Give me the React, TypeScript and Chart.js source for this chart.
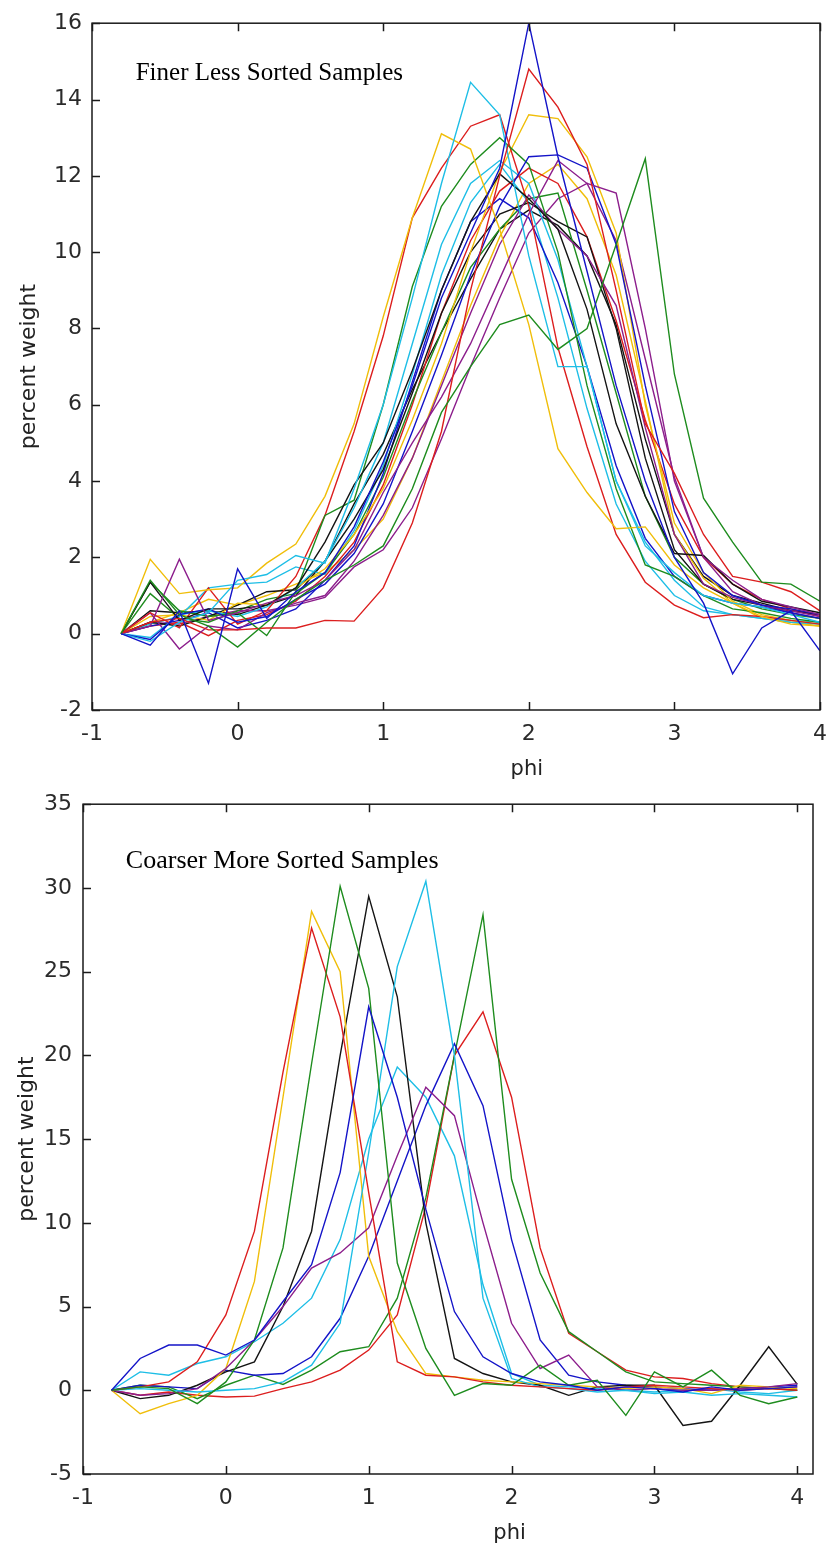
import { useEffect, useRef } from 'react';
import { Chart, registerables } from 'chart.js';

Chart.register(...registerables);

// ---------- shared axis data ----------
const PHI = [-0.8, -0.6, -0.4, -0.2, 0, 0.2, 0.4, 0.6, 0.8, 1.0, 1.2, 1.4, 1.6, 1.8, 2.0, 2.2, 2.4, 2.6, 2.8, 3.0, 3.2, 3.4, 3.6, 3.8, 4.0];
const X_TICKS = [-1, 0, 1, 2, 3, 4];
const TOP_Y_TICKS = [-2, 0, 2, 4, 6, 8, 10, 12, 14, 16];
const BOTTOM_Y_TICKS = [-5, 0, 5, 10, 15, 20, 25, 30, 35];

const X_TITLE = 'phi';
const Y_TITLE = 'percent weight';
const TOP_NOTE = 'Finer Less Sorted Samples';
const BOTTOM_NOTE = 'Coarser More Sorted Samples';

const COLORS = {
  blue: '#1414C8',
  green: '#1E8C1E',
  red: '#DC1E1E',
  cyan: '#1EBEE6',
  purple: '#8C1E8C',
  yellow: '#F0BE0A',
  black: '#141414',
};

// ---------- top panel: finer, less sorted samples ----------
const TOP_BLUE_A = [0, -0.3, 0.6, -1.3, 1.7, 0.4, 1.1, 1.6, 2.8, 4.5, 6.5, 8.8, 10.5, 12.2, 16.0, 12.5, 9.5, 6.5, 4.0, 2.0, 0.8, -1.05, 0.15, 0.6, -0.45];
const TOP_GREEN_A = [0, 1.4, 0.5, 0.2, -0.35, 0.3, 0.9, 1.4, 1.8, 2.3, 3.8, 5.8, 7.0, 8.1, 8.35, 7.45, 8.0, 10.2, 12.45, 6.8, 3.55, 2.4, 1.35, 1.3, 0.85];
const TOP_RED_A = [0, 0.3, 0.4, 0.1, 0.1, 0.15, 0.15, 0.35, 0.33, 1.2, 2.9, 5.3, 9.0, 12.0, 14.8, 13.8, 12.3, 9.0, 5.5, 4.2, 2.6, 1.5, 1.35, 1.1, 0.6];
const TOP_CYAN_A = [0, -0.2, 0.3, 0.55, 1.4, 1.55, 2.05, 1.85, 3.8, 6.0, 8.8, 11.8, 14.45, 13.6, 9.9, 7.0, 7.0, 4.0, 2.3, 1.6, 1.0, 0.8, 0.7, 0.5, 0.3];
const TOP_PURPLE_A = [0, 0.2, 1.95, 0.35, 0.55, 0.8, 1.0, 1.4, 2.2, 3.7, 5.0, 6.2, 7.6, 9.3, 11.0, 12.4, 11.8, 11.55, 8.0, 4.0, 2.0, 1.4, 0.9, 0.7, 0.5];
const TOP_YELLOW_A = [0, 1.95, 1.05, 1.15, 1.2, 1.85, 2.35, 3.6, 5.5, 8.3, 10.9, 13.1, 12.7, 10.6, 8.1, 4.85, 3.7, 2.75, 2.8, 1.8, 1.2, 0.8, 0.45, 0.25, 0.2];
const TOP_BLACK_A = [0, 1.35, 0.35, 0.65, 0.65, 0.75, 1.2, 2.4, 3.9, 5.0, 6.9, 9.0, 10.8, 12.05, 11.4, 10.6, 8.5, 5.5, 3.6, 2.1, 2.05, 1.3, 0.85, 0.7, 0.55];
const TOP_BLUE_B = [0, -0.15, 0.5, 0.65, 0.3, 0.45, 0.9, 1.3, 2.1, 3.4, 5.3, 7.3, 9.4, 11.2, 12.5, 12.55, 12.2, 10.2, 6.5, 3.2, 1.6, 1.0, 0.75, 0.65, 0.5];
const TOP_GREEN_B = [0, 1.35, 0.6, 0.45, 0.55, -0.05, 1.1, 3.1, 3.5, 6.0, 9.1, 11.2, 12.3, 13.0, 12.3, 10.0, 6.5, 3.8, 1.8, 1.5, 1.0, 0.65, 0.55, 0.4, 0.3];
const TOP_RED_B = [0, 0.55, 0.15, 1.2, 0.25, 0.6, 1.5, 3.1, 5.3, 7.8, 10.9, 12.2, 13.3, 13.6, 11.2, 7.5, 4.9, 2.6, 1.35, 0.75, 0.42, 0.5, 0.45, 0.35, 0.25];
const TOP_CYAN_B = [0, -0.1, 0.5, 0.6, 0.45, 0.7, 1.2, 1.9, 3.3, 5.0, 7.6, 10.2, 11.8, 12.4, 11.8, 9.8, 7.0, 4.0, 2.4, 1.4, 0.7, 0.5, 0.4, 0.3, 0.25];
const TOP_PURPLE_B = [0, 0.55, -0.4, 0.2, 0.1, 0.55, 0.8, 1.0, 1.9, 3.1, 4.6, 6.5, 8.4, 10.2, 11.5, 10.6, 9.9, 8.6, 5.4, 2.6, 1.3, 0.95, 0.75, 0.6, 0.45];
const TOP_YELLOW_B = [0, 0.45, 0.5, 0.35, 0.8, 0.75, 1.2, 1.7, 2.6, 3.8, 5.6, 7.6, 10.0, 12.1, 13.6, 13.5, 12.5, 10.5, 6.0, 2.9, 1.6, 0.85, 0.5, 0.35, 0.25];
const TOP_BLACK_B = [0, 0.3, 0.2, 0.45, 0.75, 1.1, 1.15, 1.9, 3.0, 4.3, 6.3, 8.4, 10.0, 11.0, 11.3, 10.8, 10.4, 8.0, 4.6, 2.2, 1.3, 0.9, 0.75, 0.6, 0.5];
const TOP_BLUE_C = [0, 0.2, 0.35, 0.55, 0.15, 0.35, 0.65, 1.4, 2.3, 4.2, 6.6, 9.0, 10.8, 11.4, 10.9, 9.2, 7.0, 4.4, 2.5, 1.5, 1.0, 0.8, 0.7, 0.55, 0.4];
const TOP_GREEN_C = [0, 1.05, 0.4, 0.3, 0.6, 0.9, 1.05, 1.6, 2.6, 4.1, 6.1, 7.9, 9.6, 10.6, 11.4, 11.55, 9.0, 6.3, 3.6, 2.0, 1.3, 0.9, 0.65, 0.5, 0.4];
const TOP_RED_C = [0, 0.2, 0.3, -0.05, 0.35, 0.5, 0.85, 1.5, 2.4, 3.9, 6.0, 8.4, 10.3, 11.6, 12.2, 11.8, 10.4, 8.2, 5.6, 3.4, 2.0, 1.3, 0.9, 0.65, 0.45];
const TOP_CYAN_C = [0, 0.25, 0.45, 1.2, 1.3, 1.35, 1.75, 1.55, 2.7, 4.4, 6.8, 9.4, 11.3, 12.3, 11.3, 8.8, 5.9, 3.4, 1.9, 1.0, 0.6, 0.5, 0.4, 0.35, 0.3];
const TOP_PURPLE_C = [0, 0.3, 0.25, 0.45, 0.6, 0.6, 0.75, 0.95, 1.75, 2.2, 3.3, 5.1, 7.0, 8.8, 10.5, 11.4, 11.8, 10.3, 7.2, 4.1, 2.0, 1.1, 0.75, 0.55, 0.4];
const TOP_YELLOW_C = [0, 0.3, 0.55, 0.9, 0.75, 1.0, 1.3, 1.6, 2.2, 3.0, 4.6, 6.6, 8.6, 10.4, 11.8, 12.3, 11.4, 9.4, 6.1, 2.6, 1.45, 0.8, 0.4, 0.3, 0.2];
const TOP_BLACK_C = [0, 0.6, 0.55, 0.6, 0.5, 0.75, 1.0, 1.9, 3.4, 4.7, 6.4, 7.9, 9.3, 10.6, 11.1, 10.7, 9.9, 8.1, 5.1, 2.6, 1.5, 1.0, 0.8, 0.6, 0.5];

// ---------- bottom panel: coarser, more sorted samples ----------
const BOT_BLUE_A = [0, 1.9, 2.7, 2.7, 2.1, 3.0, 5.3, 7.5, 13.0, 22.9, 17.5, 10.8, 4.7, 2.0, 1.0, 0.5, 0.3, 0.0, 0.2, 0.1, -0.1, 0.2, 0.0, 0.1, 0.2];
const BOT_GREEN_A = [0, 0.2, 0.1, -0.8, 0.5, 3.0, 8.5, 19.5, 30.1, 24.0, 7.6, 2.5, -0.3, 0.4, 0.3, 1.5, 0.3, 0.6, -1.5, 1.1, 0.2, 1.2, -0.3, -0.8, -0.4];
const BOT_RED_A = [0, 0.2, 0.5, 1.7, 4.5, 9.5, 19.0, 27.6, 22.3, 11.8, 1.7, 0.9, 0.8, 0.5, 0.3, 0.2, 0.1, 0.0, 0.2, 0.3, 0.2, 0.1, 0.0, 0.1, 0.0];
const BOT_CYAN_A = [0, 0.1, 0.0, -0.1, 0.0, 0.1, 0.5, 1.5, 4.0, 14.2, 25.3, 30.4, 20.0, 5.5, 0.7, 0.2, 0.1, -0.1, 0.0, -0.2, -0.1, -0.3, -0.2, -0.3, -0.4];
const BOT_PURPLE = [0, -0.3, -0.2, 0.1, 1.3, 3.0, 5.0, 7.3, 8.2, 9.7, 14.0, 18.1, 16.4, 10.0, 4.0, 1.3, 2.1, 0.2, 0.0, 0.1, 0.0, 0.0, 0.1, 0.2, 0.4];
const BOT_YELLOW = [0, -1.4, -0.8, -0.3, 1.3, 6.5, 17.5, 28.6, 25.0, 8.0, 3.5, 1.0, 0.8, 0.6, 0.5, 0.4, 0.3, 0.2, 0.1, 0.2, 0.1, -0.2, 0.3, 0.2, 0.1];
const BOT_BLACK = [0, -0.5, -0.3, 0.3, 1.1, 1.7, 5.0, 9.5, 20.0, 29.5, 23.5, 10.0, 1.9, 1.0, 0.5, 0.3, -0.3, 0.2, 0.3, 0.3, -2.1, -1.85, 0.3, 2.6, 0.35];
const BOT_BLUE_B = [0, 0.3, 0.2, 0.1, 1.2, 0.9, 1.0, 2.0, 4.3, 8.0, 12.5, 17.0, 20.7, 17.0, 9.0, 3.0, 0.9, 0.5, 0.3, 0.2, 0.1, 0.0, 0.1, 0.2, 0.3];
const BOT_GREEN_B = [0, 0.3, 0.2, -0.5, 0.3, 0.9, 0.35, 1.2, 2.3, 2.6, 5.5, 11.5, 20.0, 28.4, 12.6, 7.0, 3.5, 2.3, 1.1, 0.5, 0.4, 0.3, 0.2, 0.1, 0.0];
const BOT_RED_B = [0, -0.3, -0.1, -0.3, -0.4, -0.35, 0.1, 0.5, 1.2, 2.4, 4.5, 11.0, 20.0, 22.6, 17.5, 8.5, 3.4, 2.3, 1.2, 0.8, 0.7, 0.4, 0.2, 0.1, 0.2];
const BOT_CYAN_B = [0, 1.1, 0.9, 1.6, 2.0, 2.9, 4.0, 5.5, 9.0, 15.0, 19.3, 17.5, 14.0, 6.3, 1.0, 0.3, 0.2, 0.1, 0.0, -0.1, 0.0, 0.1, -0.1, -0.2, 0.0];

const TOP_SERIES = [
  { label: 'fine 1', color: COLORS.blue, values: TOP_BLUE_A },
  { label: 'fine 2', color: COLORS.green, values: TOP_GREEN_A },
  { label: 'fine 3', color: COLORS.red, values: TOP_RED_A },
  { label: 'fine 4', color: COLORS.cyan, values: TOP_CYAN_A },
  { label: 'fine 5', color: COLORS.purple, values: TOP_PURPLE_A },
  { label: 'fine 6', color: COLORS.yellow, values: TOP_YELLOW_A },
  { label: 'fine 7', color: COLORS.black, values: TOP_BLACK_A },
  { label: 'fine 8', color: COLORS.blue, values: TOP_BLUE_B },
  { label: 'fine 9', color: COLORS.green, values: TOP_GREEN_B },
  { label: 'fine 10', color: COLORS.red, values: TOP_RED_B },
  { label: 'fine 11', color: COLORS.cyan, values: TOP_CYAN_B },
  { label: 'fine 12', color: COLORS.purple, values: TOP_PURPLE_B },
  { label: 'fine 13', color: COLORS.yellow, values: TOP_YELLOW_B },
  { label: 'fine 14', color: COLORS.black, values: TOP_BLACK_B },
  { label: 'fine 15', color: COLORS.blue, values: TOP_BLUE_C },
  { label: 'fine 16', color: COLORS.green, values: TOP_GREEN_C },
  { label: 'fine 17', color: COLORS.red, values: TOP_RED_C },
  { label: 'fine 18', color: COLORS.cyan, values: TOP_CYAN_C },
  { label: 'fine 19', color: COLORS.purple, values: TOP_PURPLE_C },
  { label: 'fine 20', color: COLORS.yellow, values: TOP_YELLOW_C },
  { label: 'fine 21', color: COLORS.black, values: TOP_BLACK_C },
];

const BOTTOM_SERIES = [
  { label: 'coarse 1', color: COLORS.blue, values: BOT_BLUE_A },
  { label: 'coarse 2', color: COLORS.green, values: BOT_GREEN_A },
  { label: 'coarse 3', color: COLORS.red, values: BOT_RED_A },
  { label: 'coarse 4', color: COLORS.cyan, values: BOT_CYAN_A },
  { label: 'coarse 5', color: COLORS.purple, values: BOT_PURPLE },
  { label: 'coarse 6', color: COLORS.yellow, values: BOT_YELLOW },
  { label: 'coarse 7', color: COLORS.black, values: BOT_BLACK },
  { label: 'coarse 8', color: COLORS.blue, values: BOT_BLUE_B },
  { label: 'coarse 9', color: COLORS.green, values: BOT_GREEN_B },
  { label: 'coarse 10', color: COLORS.red, values: BOT_RED_B },
  { label: 'coarse 11', color: COLORS.cyan, values: BOT_CYAN_B },
];

const TICK_FONT = { family: '"DejaVu Sans", sans-serif', size: 22 };

// Draws the MATLAB-style box, inward ticks, axis titles and the note text.
const matlabPlugin = {
  id: 'matlab',
  afterDatasetsDraw(chart: any, _args: any, opts: any) {
    const { ctx, chartArea: a } = chart;
    const xs = chart.scales.x;
    const ys = chart.scales.y;
    ctx.save();
    ctx.strokeStyle = '#1a1a1a';
    ctx.lineWidth = 1.5;
    ctx.strokeRect(a.left, a.top, a.right - a.left, a.bottom - a.top);
    const L = 8;
    ctx.beginPath();
    xs.ticks.forEach((t: any) => {
      const px = Math.round(xs.getPixelForValue(t.value)) + 0.5;
      ctx.moveTo(px, a.bottom);
      ctx.lineTo(px, a.bottom - L);
      ctx.moveTo(px, a.top);
      ctx.lineTo(px, a.top + L);
    });
    ys.ticks.forEach((t: any) => {
      const py = Math.round(ys.getPixelForValue(t.value)) + 0.5;
      ctx.moveTo(a.left, py);
      ctx.lineTo(a.left + L, py);
    });
    ctx.stroke();

    // note
    ctx.fillStyle = '#000';
    ctx.font = opts.noteFont;
    ctx.textAlign = 'left';
    ctx.textBaseline = 'alphabetic';
    ctx.fillText(opts.note, xs.getPixelForValue(opts.noteX), ys.getPixelForValue(opts.noteY));

    // x title
    ctx.fillStyle = '#222';
    ctx.font = '21px "DejaVu Sans", sans-serif';
    ctx.textAlign = 'center';
    ctx.fillText(opts.xTitle, xs.getPixelForValue(opts.xTitleAt) - 2, a.bottom + opts.xTitleGap);

    // y title
    ctx.translate(opts.yTitleX, (a.top + a.bottom) / 2);
    ctx.rotate(-Math.PI / 2);
    ctx.font = '22px "DejaVu Sans", sans-serif';
    ctx.textBaseline = 'middle';
    ctx.fillText(opts.yTitle, 0, 0);
    ctx.restore();
  },
};

type PanelProps = {
  series: { label: string; color: string; values: number[] }[];
  yTicks: number[];
  xMax: number;
  canvasTop: number;
  canvasHeight: number;
  padTop: number;
  padRight: number;
  yAxisWidth: number;
  xAxisHeight: number;
  yLabelPad: number;
  yTitleX: number;
  note: string;
  noteX: number;
  noteY: number;
  noteFont: string;
};

function Panel(p: PanelProps) {
  const ref = useRef<HTMLCanvasElement | null>(null);
  useEffect(() => {
    if (!ref.current) return;
    const chart = new Chart(ref.current, {
      type: 'line',
      data: {
        datasets: p.series.map((s) => ({
          label: s.label,
          data: PHI.map((x, i) => ({ x, y: s.values[i] })),
          borderColor: s.color,
          backgroundColor: s.color,
          borderWidth: 1.4,
          pointRadius: 0,
          tension: 0,
          fill: false,
        })),
      },
      options: {
        animation: false,
        responsive: false,
        events: [],
        layout: { padding: { top: p.padTop, right: p.padRight, left: 0, bottom: 0 } },
        plugins: {
          legend: { display: false },
          tooltip: { enabled: false },
          matlab: {
            note: p.note,
            noteX: p.noteX,
            noteY: p.noteY,
            noteFont: p.noteFont,
            xTitle: X_TITLE,
            xTitleAt: 2,
            xTitleGap: 65,
            yTitle: Y_TITLE,
            yTitleX: p.yTitleX,
          },
        } as any,
        scales: {
          x: {
            type: 'linear',
            min: -1,
            max: p.xMax,
            grid: { display: false, drawTicks: false },
            border: { display: false },
            ticks: { font: TICK_FONT, color: '#2a2a2a', padding: 11, maxRotation: 0 },
            afterBuildTicks: (s: any) => {
              s.ticks = X_TICKS.map((v) => ({ value: v }));
            },
            afterFit: (s: any) => {
              s.height = p.xAxisHeight;
            },
          },
          y: {
            type: 'linear',
            min: p.yTicks[0],
            max: p.yTicks[p.yTicks.length - 1],
            grid: { display: false, drawTicks: false },
            border: { display: false },
            ticks: { font: TICK_FONT, color: '#2a2a2a', padding: p.yLabelPad },
            afterBuildTicks: (s: any) => {
              s.ticks = p.yTicks.map((v) => ({ value: v }));
            },
            afterFit: (s: any) => {
              s.width = p.yAxisWidth;
            },
          },
        },
      },
      plugins: [matlabPlugin],
    });
    return () => chart.destroy();
  }, []);
  return (
    <canvas
      ref={ref}
      width={838}
      height={p.canvasHeight}
      style={{ position: 'absolute', left: 0, top: p.canvasTop, width: 838, height: p.canvasHeight }}
    />
  );
}

export default function App() {
  return (
    <div style={{ position: 'absolute', left: 0, top: 0, width: 838, height: 1550, background: '#fff' }}>
      <Panel
        series={TOP_SERIES}
        yTicks={TOP_Y_TICKS}
        xMax={4}
        canvasTop={0}
        canvasHeight={800}
        padTop={20}
        padRight={18}
        yAxisWidth={92}
        xAxisHeight={90}
        yLabelPad={10}
        yTitleX={29}
        note={TOP_NOTE}
        noteX={-0.7}
        noteY={14.5}
        noteFont='25px "Liberation Serif", serif'
      />
      <Panel
        series={BOTTOM_SERIES}
        yTicks={BOTTOM_Y_TICKS}
        xMax={4.11}
        canvasTop={780}
        canvasHeight={770}
        padTop={20}
        padRight={25}
        yAxisWidth={83}
        xAxisHeight={76}
        yLabelPad={11}
        yTitleX={27}
        note={BOTTOM_NOTE}
        noteX={-0.7}
        noteY={31.2}
        noteFont='26px "Liberation Serif", serif'
      />
    </div>
  );
}
